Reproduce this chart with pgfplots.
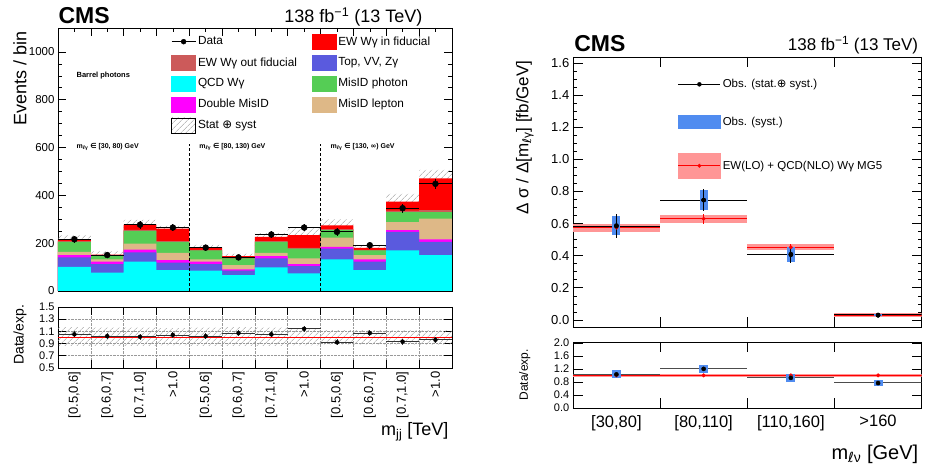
\documentclass[border=0pt]{standalone}
\usepackage{fontspec}
\setmainfont{Liberation Sans}
\newfontfamily\dejavu{DejaVu Sans}
\usepackage{pgfplots}
\pgfplotsset{compat=1.18}
\usepgfplotslibrary{fillbetween}
\usetikzlibrary{patterns.meta}

\definecolor{ewin}{RGB}{255,0,0}
\definecolor{ewout}{RGB}{204,90,90}
\definecolor{qcd}{RGB}{0,255,255}
\definecolor{dmis}{RGB}{255,0,255}
\definecolor{topvv}{RGB}{90,90,222}
\definecolor{misph}{RGB}{85,205,85}
\definecolor{mislep}{RGB}{222,184,135}
\definecolor{obsblue}{RGB}{80,140,240}
\definecolor{mcband}{RGB}{255,150,150}

\newcommand{\fs}[1]{\fontsize{#1}{#1}\selectfont}
\newcommand{\legbox}[1]{\addlegendimage{legend image code/.code={\fill[#1] (0pt,-7.5pt) rectangle (24pt,7.5pt);}}}

\pgfplotsset{
  cms/.style={
    scale only axis, anchor=south west,
    axis line style={line width=0.6pt},
    every tick/.style={black, line width=0.5pt},
    major tick length=8pt, minor tick length=4pt,
    tick label style={font=\fs{11.5}},
    /pgf/number format/assume math mode=true,
    /pgf/number format/1000 sep={},
  },
  onedig/.style={yticklabel style={/pgf/number format/.cd, fixed, fixed zerofill, precision=1}},
  hatch/.style={pattern={Lines[angle=45,distance=4pt,line width=0.5pt]}, pattern color=gray!80},
  stk/.style={ybar, bar width=1, bar shift=0pt, draw=none, forget plot},
  band/.style={fill=mcband, draw=none, forget plot},
}

\begin{document}
\begin{tikzpicture}[x=1pt,y=1pt]
\path (0,0) rectangle (925,465);

% ---------------- left, top: stacked yields ----------------
\begin{axis}[cms, at={(58pt,174pt)}, width=394pt, height=263pt,
  xmin=0, xmax=12, ymin=0, ymax=1100,
  xtick={0,...,12}, xticklabels={}, minor x tick num=1,
  ytick={0,200,400,600,800,1000}, minor y tick num=3,
  legend columns=2,
  legend style={draw=none, fill=none, at={(0.287,0.978)}, anchor=north west,
    inner sep=0pt, font=\fs{11.8}, cells={anchor=west},
    /tikz/every even column/.append style={column sep=13pt}, row sep=5.5pt},
  ]
\addlegendimage{legend image code/.code={\draw[black,line width=0.8pt] (0pt,0pt)--(24pt,0pt); \fill[black] (12pt,0pt) circle (2.5pt);}}
\addlegendentry{Data}
\legbox{ewin}   \addlegendentry{EW Wγ in fiducial}
\legbox{ewout}  \addlegendentry{EW Wγ out fiducial}
\legbox{topvv}  \addlegendentry{Top, VV, Zγ}
\legbox{qcd}    \addlegendentry{QCD Wγ}
\legbox{misph}  \addlegendentry{MisID photon}
\legbox{dmis}   \addlegendentry{Double MisID}
\legbox{mislep} \addlegendentry{MisID lepton}
\addlegendimage{legend image code/.code={\fill[pattern={Lines[angle=45,distance=4pt,line width=0.5pt]}, pattern color=gray!80] (0pt,-7.5pt) rectangle (24pt,7.5pt);}}
\addlegendentry{Stat {\dejavu ⊕} syst}

% cumulative tops of the stack, largest first
\addplot[stk, fill=ewin] coordinates {(0.5,215)(1.5,152)(2.5,277)(3.5,261)(4.5,181)(5.5,145)(6.5,226)(7.5,233)(8.5,274)(9.5,180)(10.5,374)(11.5,471)};
\addplot[stk, fill=ewout] coordinates {(0.5,208)(1.5,147)(2.5,255)(3.5,208)(4.5,172)(5.5,138)(6.5,208)(7.5,180)(8.5,258)(9.5,172)(10.5,336)(11.5,338)};
\addplot[stk, fill=misph] coordinates {(0.5,205)(1.5,145)(2.5,251)(3.5,205)(4.5,170)(5.5,136)(6.5,205)(7.5,177)(8.5,254)(9.5,170)(10.5,330)(11.5,330)};
\addplot[stk, fill=mislep] coordinates {(0.5,163)(1.5,132)(2.5,198)(3.5,159)(4.5,132)(5.5,108)(6.5,159)(7.5,136)(8.5,223)(9.5,150)(10.5,288)(11.5,302)};
\addplot[stk, fill=dmis] coordinates {(0.5,150)(1.5,122)(2.5,173)(3.5,129)(4.5,122)(5.5,90)(6.5,145)(7.5,112)(8.5,184)(9.5,132)(10.5,254)(11.5,216)};
\addplot[stk, fill=topvv] coordinates {(0.5,140)(1.5,112)(2.5,161)(3.5,118)(4.5,112)(5.5,85)(6.5,136)(7.5,104)(8.5,177)(9.5,122)(10.5,247)(11.5,205)};
\addplot[stk, fill=qcd] coordinates {(0.5,101)(1.5,76)(2.5,122)(3.5,87)(4.5,85)(5.5,66)(6.5,98)(7.5,73)(8.5,132)(9.5,87)(10.5,170)(11.5,150)};

% stat+syst band
\addplot[name path=hup, draw=none, const plot, forget plot] coordinates {(0,233)(1,165)(2,297)(3,272)(4,193)(5,156)(6,242)(7,262)(8,299)(9,193)(10,406)(11,506)(12,506)};
\addplot[name path=hlo, draw=none, const plot, forget plot] coordinates {(0,197)(1,139)(2,257)(3,250)(4,169)(5,134)(6,210)(7,204)(8,249)(9,167)(10,342)(11,436)(12,436)};
\addplot[hatch, forget plot] fill between[of=hup and hlo];

% data
\addplot[black, only marks, mark=*, mark size=3pt, forget plot,
  error bars/.cd, x dir=both, x fixed=0.5, y dir=both, y explicit, error mark=none,
  error bar style={line width=0.8pt, black}]
  coordinates {(0.5,216)+-(0,15) (1.5,150)+-(0,12) (2.5,277)+-(0,17) (3.5,265)+-(0,16)
               (4.5,181)+-(0,13) (5.5,140)+-(0,12) (6.5,236)+-(0,15) (7.5,265)+-(0,16)
               (8.5,247)+-(0,16) (9.5,191)+-(0,14) (10.5,346)+-(0,19) (11.5,448)+-(0,21)};

\addplot[black, densely dashed, line width=0.8pt, forget plot] coordinates {(4,0)(4,615)};
\addplot[black, densely dashed, line width=0.8pt, forget plot] coordinates {(8,0)(8,615)};

\node[anchor=west, font=\bfseries\fs{7.5}] at (axis cs:0.46,899) {Barrel photons};
\node[anchor=west, font=\bfseries\fs{7}] at (axis cs:0.46,602) {m\textsubscript{{\dejavu ℓ}γ} {\dejavu ∈} [30, 80) GeV};
\node[anchor=west, font=\bfseries\fs{7}] at (axis cs:4.2,602) {m\textsubscript{{\dejavu ℓ}γ} {\dejavu ∈} [80, 130) GeV};
\node[anchor=west, font=\bfseries\fs{7}] at (axis cs:8.2,602) {m\textsubscript{{\dejavu ℓ}γ} {\dejavu ∈} [130, {\dejavu ∞}) GeV};
\end{axis}

% ---------------- left, bottom: ratio ----------------
\begin{axis}[cms, onedig, at={(58pt,97pt)}, width=394pt, height=61pt,
  xmin=0, xmax=12, ymin=0.5, ymax=1.5,
  xtick={0,...,12}, xticklabels={},
  ytick={0.5,0.7,0.9,1.1,1.3,1.5},
  xmajorgrids, ymajorgrids, grid style={densely dotted, gray!80, line width=0.5pt},
  tick label style={font=\fs{11}},
  extra x ticks={0.5,1.5,...,11.5},
  extra x tick labels={{[0.5,0.6]},{[0.6,0.7]},{[0.7,1.0]},{>1.0},{[0.5,0.6]},{[0.6,0.7]},{[0.7,1.0]},{>1.0},{[0.5,0.6]},{[0.6,0.7]},{[0.7,1.0]},{>1.0}},
  extra x tick style={major tick length=0pt, grid=none,
    tick label style={rotate=90, anchor=east, font=\fs{13}}},
  ]
\addplot[name path=rup, draw=none, const plot] coordinates {(0,1.17)(1,1.16)(2,1.16)(3,1.15)(4,1.16)(5,1.17)(6,1.16)(7,1.15)(8,1.12)(9,1.12)(10,1.12)(11,1.12)(12,1.12)};
\addplot[name path=rlo, draw=none, const plot] coordinates {(0,0.86)(1,0.86)(2,0.86)(3,0.87)(4,0.86)(5,0.86)(6,0.86)(7,0.87)(8,0.88)(9,0.88)(10,0.88)(11,0.88)(12,0.88)};
\addplot[hatch] fill between[of=rup and rlo];
\addplot[red, line width=0.8pt] coordinates {(0,1)(12,1)};
\addplot[black, only marks, mark=*, mark size=2pt,
  error bars/.cd, x dir=both, x fixed=0.5, y dir=both, y explicit, error mark=none,
  error bar style={line width=0.8pt, black!80}]
  coordinates {(0.5,1.05)+-(0,0.05) (1.5,1.02)+-(0,0.05) (2.5,1.01)+-(0,0.05) (3.5,1.04)+-(0,0.05)
               (4.5,1.02)+-(0,0.05) (5.5,1.07)+-(0,0.05) (6.5,1.05)+-(0,0.05) (7.5,1.14)+-(0,0.05)
               (8.5,0.92)+-(0,0.05) (9.5,1.07)+-(0,0.05) (10.5,0.93)+-(0,0.05) (11.5,0.96)+-(0,0.05)};
\end{axis}

% ---------------- right, top: differential cross section ----------------
\begin{axis}[cms, onedig, at={(573pt,138pt)}, width=349pt, height=270pt,
  xmin=0, xmax=4, ymin=-0.044, ymax=1.638,
  xtick={0,1,2,3,4}, xticklabels={}, major tick length=10pt,
  ytick={0,0.2,0.4,0.6,0.8,1.0,1.2,1.4,1.6}, minor y tick num=3,
  tick label style={font=\fs{13}},
  legend style={draw=none, fill=none, at={(0.301,0.925)}, anchor=north west,
    inner sep=0pt, font=\fs{11.5}, cells={anchor=west}, row sep=24pt},
  ]
\addlegendimage{legend image code/.code={\draw[black,line width=0.8pt] (0pt,0pt)--(42pt,0pt); \fill[black] (21pt,0pt) circle (2pt);}}
\addlegendentry{Obs. (stat.{\dejavu ⊕} syst.)}
\addlegendimage{legend image code/.code={\fill[obsblue] (0pt,-6.5pt) rectangle (42pt,6.5pt);}}
\addlegendentry{Obs. (syst.)}
\addlegendimage{legend image code/.code={\fill[mcband] (0pt,-12.5pt) rectangle (42pt,12.5pt); \draw[red,line width=0.8pt] (0pt,0pt)--(42pt,0pt); \fill[red] (21pt,0pt) circle (1.8pt);}}
\addlegendentry{EW(LO) + QCD(NLO) Wγ MG5}

% prediction band, one rectangle per bin
\addplot[band] coordinates {(0,0.550)(1,0.550)(1,0.600)(0,0.600)} --cycle;
\addplot[band] coordinates {(1,0.605)(2,0.605)(2,0.655)(1,0.655)} --cycle;
\addplot[band] coordinates {(2,0.434)(3,0.434)(3,0.470)(2,0.470)} --cycle;
\addplot[band] coordinates {(3,0.020)(4,0.020)(4,0.040)(3,0.040)} --cycle;
\addplot[red, line width=1pt, jump mark left, forget plot] coordinates {(0,0.575)(1,0.630)(2,0.452)(3,0.030)(4,0.030)};
\addplot[red, only marks, mark=*, mark size=1.8pt, forget plot,
  error bars/.cd, y dir=both, y explicit, error mark=none, error bar style={red, line width=0.8pt}]
  coordinates {(0.5,0.575)+-(0,0.03) (1.5,0.630)+-(0,0.03) (2.5,0.452)+-(0,0.02) (3.5,0.030)+-(0,0.01)};
% observed: stat+syst (black), syst (blue)
\addplot[black, only marks, mark=none, forget plot,
  error bars/.cd, x dir=both, x fixed=0.5, error mark=none, error bar style={black, line width=0.8pt}]
  coordinates {(0.5,0.583)(1.5,0.746)(2.5,0.410)(3.5,0.031)};
\addplot[only marks, mark=none, forget plot,
  error bars/.cd, y dir=both, y explicit, error mark=none, error bar style={draw=obsblue, line width=8pt}]
  coordinates {(0.5,0.587)+-(0,0.06) (1.5,0.746)+-(0,0.06) (2.5,0.406)+-(0,0.045) (3.5,0.028)+-(0,0.006)};
\addplot[black, only marks, mark=*, mark size=2pt, forget plot,
  error bars/.cd, y dir=both, y explicit, error mark=none, error bar style={black, line width=0.8pt}]
  coordinates {(0.5,0.587)+-(0,0.075) (1.5,0.746)+-(0,0.07) (2.5,0.406)+-(0,0.055) (3.5,0.028)+-(0,0.008)};
\end{axis}

% ---------------- right, bottom: ratio ----------------
\begin{axis}[cms, onedig, at={(573pt,57pt)}, width=349pt, height=66pt,
  xmin=0, xmax=4, ymin=0, ymax=2.03,
  xtick={0,1,2,3,4}, xticklabels={}, major tick length=10pt,
  ytick={0,0.4,0.8,1.2,1.6,2.0},
  tick label style={font=\fs{11}},
  extra x ticks={0.5,1.5,2.5,3.5},
  extra x tick labels={{[30,80]},{[80,110]},{[110,160]},{>160}},
  extra x tick style={major tick length=0pt, tick label style={font=\fs{16.5}, yshift=-4pt}},
  ]
\addplot[fill=mcband, draw=none] coordinates {(0,0.96)(4,0.96)(4,1.04)(0,1.04)} --cycle;
\addplot[red, line width=1pt] coordinates {(0,1)(4,1)};
\addplot[red, only marks, mark=*, mark size=1.8pt] coordinates {(0.5,1)(1.5,1)(2.5,1)(3.5,1)};
\addplot[black!70, only marks, mark=none,
  error bars/.cd, x dir=both, x fixed=0.5, error mark=none, error bar style={black!70, line width=0.8pt}]
  coordinates {(0.5,1.03)(1.5,1.20)(2.5,0.93)(3.5,0.77)};
\addplot[only marks, mark=none,
  error bars/.cd, y dir=both, y explicit, error mark=none, error bar style={draw=obsblue, line width=9pt}]
  coordinates {(0.5,1.03)+-(0,0.12) (1.5,1.20)+-(0,0.12) (2.5,0.92)+-(0,0.11) (3.5,0.76)+-(0,0.09)};
\end{axis}

% ---------------- titles and axis labels ----------------
\node[anchor=west, font=\bfseries\fs{23}] at (55,449) {CMS};
\node[anchor=east, font=\fs{18}] at (426,448) {138 fb\textsuperscript{−1} (13 TeV)};
\node[anchor=west, font=\bfseries\fs{23}] at (571,421) {CMS};
\node[anchor=east, font=\fs{17}] at (922,420) {138 fb\textsuperscript{−1} (13 TeV)};
\node[rotate=90, anchor=east, font=\fs{18}] at (20,437) {Events / bin};
\node[rotate=90, font=\fs{14}] at (20,130) {Data/exp.};
\node[anchor=east, font=\fs{18}] at (452,33) {m\textsubscript{jj} [TeV]};
\node[rotate=90, anchor=east, font=\fs{17}] at (525,408) {Δ σ / Δ[m\textsubscript{{\dejavu ℓ}γ}] [fb/GeV]};
\node[rotate=90, font=\fs{12}] at (525,90) {Data/exp.};
\node[anchor=east, font=\fs{20}] at (922,11) {m\textsubscript{{\dejavu ℓ}ν} [GeV]};
\end{tikzpicture}
\end{document}
